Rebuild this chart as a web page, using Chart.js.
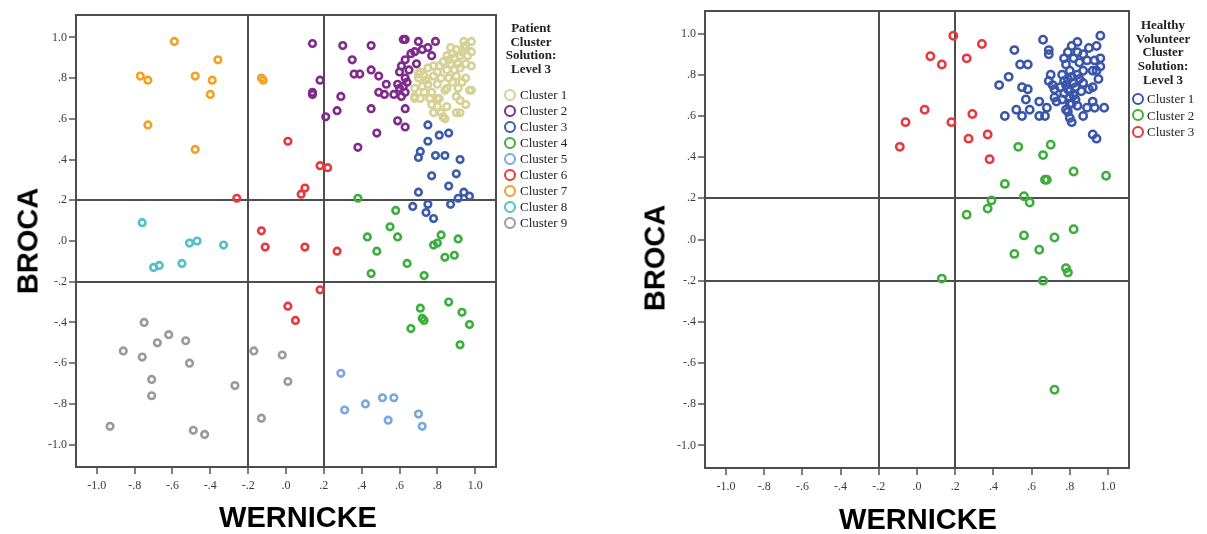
<!DOCTYPE html>
<html lang="en">
<head>
<meta charset="UTF-8">
<title>Patient and Healthy Volunteer Cluster Solutions</title>
<script src="https://cdn.jsdelivr.net/npm/chart.js"></script>
<style>
  body { margin: 0; background: #fff; }
  #wrap { position: relative; width: 1207px; height: 534px; overflow: hidden; }
  canvas { position: absolute; top: 0; }
  .axis-title {
    position: absolute; white-space: nowrap; color: #000;
    font: bold 29px "Liberation Sans", Arial, sans-serif;
    transform: translate(-50%, -50%);
  }
  .axis-title.y { transform: translate(-50%, -50%) rotate(-90deg); }
  .leg-title {
    position: absolute; text-align: center; color: #222; white-space: nowrap;
    font: bold 13px/13.7px "Liberation Serif", serif;
    transform: translateX(-50%);
  }
  .leg-item {
    position: absolute; white-space: nowrap; color: #222;
    font: 13px/16px "Liberation Serif", serif;
  }
  .leg-ring { position: absolute; width: 8px; height: 8px; border: 2.5px solid; border-radius: 50%; }
</style>
</head>
<body>
<div id="wrap">
  <canvas id="patientChart" width="600" height="534" style="left:0"></canvas>
  <canvas id="healthyChart" width="607" height="534" style="left:600px"></canvas>
</div>

<script>
// axis setup
const axisMin = -1.11, axisMax = 1.11;
const tickValues = [-1.0, -0.8, -0.6, -0.4, -0.2, 0, 0.2, 0.4, 0.6, 0.8, 1.0];
const cutoffs = [-0.2, 0.2];

// patient panel, [wernicke, broca]
const patientNames = ['Cluster 1', 'Cluster 2', 'Cluster 3', 'Cluster 4', 'Cluster 5',
                      'Cluster 6', 'Cluster 7', 'Cluster 8', 'Cluster 9'];
const patientColors = ['#d6d196', '#7f2b8c', '#3b5bab', '#3cae3c', '#7aa8dc',
                       '#e8383d', '#f2a125', '#4fc0cc', '#9a9a9a'];

const patientC1 = [[0.94,0.98],[0.98,0.98],[0.95,0.96],[0.90,0.94],[0.94,0.95],[0.98,0.93],[0.88,0.92],
  [0.92,0.91],[0.96,0.91],[0.85,0.91],[0.89,0.90],[0.83,0.88],[0.87,0.87],[0.91,0.87],[0.95,0.87],
  [0.81,0.86],[0.78,0.86],[0.75,0.85],[0.85,0.84],[0.89,0.84],[0.98,0.86],[0.71,0.83],[0.73,0.81],
  [0.70,0.80],[0.78,0.81],[0.82,0.80],[0.86,0.80],[0.90,0.81],[0.95,0.80],[0.75,0.77],[0.72,0.76],
  [0.68,0.75],[0.80,0.77],[0.85,0.75],[0.91,0.75],[0.97,0.74],[0.73,0.73],[0.77,0.73],[0.68,0.71],
  [0.71,0.70],[0.76,0.70],[0.80,0.70],[0.90,0.71],[0.92,0.69],[0.95,0.67],[0.77,0.67],[0.80,0.66],
  [0.85,0.66],[0.90,0.63],[0.82,0.63],[0.78,0.63],[0.83,0.61],[0.84,0.60],[0.74,0.79],[0.70,0.82],
  [0.68,0.70],[0.92,0.63],[0.98,0.74],[0.81,0.70],[0.84,0.74],[0.93,0.93],[0.87,0.95],[0.92,0.85],
  [0.88,0.78],[0.93,0.78],[0.86,0.89],[0.80,0.83]];
const patientC2 = [[0.14,0.97],[0.30,0.96],[0.45,0.96],[0.62,0.99],[0.63,0.99],[0.70,0.98],[0.79,0.98],
  [0.75,0.95],[0.72,0.94],[0.68,0.93],[0.66,0.92],[0.77,0.91],[0.63,0.89],[0.35,0.89],[0.69,0.87],
  [0.61,0.86],[0.60,0.83],[0.45,0.84],[0.36,0.82],[0.39,0.82],[0.49,0.81],[0.63,0.80],[0.64,0.78],
  [0.18,0.79],[0.59,0.77],[0.53,0.77],[0.14,0.72],[0.14,0.73],[0.49,0.73],[0.52,0.72],[0.57,0.72],
  [0.61,0.71],[0.63,0.73],[0.60,0.75],[0.29,0.71],[0.27,0.64],[0.45,0.65],[0.63,0.65],[0.21,0.61],
  [0.59,0.59],[0.63,0.56],[0.48,0.53],[0.38,0.46],[0.62,0.76],[0.65,0.84]];
const patientC3 = [[0.75,0.57],[0.81,0.52],[0.86,0.53],[0.75,0.49],[0.71,0.44],[0.70,0.41],[0.79,0.42],
  [0.84,0.42],[0.92,0.40],[0.77,0.32],[0.90,0.33],[0.86,0.27],[0.70,0.24],[0.94,0.24],[0.91,0.21],
  [0.97,0.22],[0.67,0.17],[0.75,0.18],[0.87,0.18],[0.74,0.14],[0.78,0.11]];
const patientC4 = [[0.38,0.21],[0.58,0.15],[0.55,0.07],[0.59,0.02],[0.43,0.02],[0.48,-0.05],[0.64,-0.11],
  [0.45,-0.16],[0.73,-0.17],[0.82,0.03],[0.80,-0.01],[0.78,-0.02],[0.91,0.01],[0.84,-0.08],[0.89,-0.07],
  [0.71,-0.33],[0.86,-0.30],[0.93,-0.35],[0.97,-0.41],[0.72,-0.38],[0.73,-0.39],[0.66,-0.43],[0.92,-0.51]];
const patientC5 = [[0.29,-0.65],[0.31,-0.83],[0.42,-0.80],[0.51,-0.77],[0.57,-0.77],[0.54,-0.88],
  [0.70,-0.85],[0.72,-0.91]];
const patientC6 = [[0.01,0.49],[0.18,0.37],[0.22,0.36],[0.10,0.26],[0.08,0.23],[-0.26,0.21],[-0.13,0.05],
  [-0.11,-0.03],[0.10,-0.03],[0.27,-0.05],[0.18,-0.24],[0.01,-0.32],[0.05,-0.39]];
const patientC7 = [[-0.59,0.98],[-0.77,0.81],[-0.73,0.79],[-0.48,0.81],[-0.39,0.79],[-0.36,0.89],
  [-0.40,0.72],[-0.73,0.57],[-0.48,0.45],[-0.13,0.80],[-0.12,0.79]];
const patientC8 = [[-0.76,0.09],[-0.51,-0.01],[-0.47,0.00],[-0.33,-0.02],[-0.70,-0.13],[-0.67,-0.12],
  [-0.55,-0.11]];
const patientC9 = [[-0.75,-0.40],[-0.86,-0.54],[-0.76,-0.57],[-0.68,-0.50],[-0.62,-0.46],[-0.53,-0.49],
  [-0.51,-0.60],[-0.71,-0.68],[-0.71,-0.76],[-0.93,-0.91],[-0.49,-0.93],[-0.43,-0.95],[-0.27,-0.71],
  [-0.17,-0.54],[-0.02,-0.56],[0.01,-0.69],[-0.13,-0.87]];

// healthy volunteer panel
const healthyNames = ['Cluster 1', 'Cluster 2', 'Cluster 3'];
const healthyColors = ['#3a56ab', '#3cae3c', '#e8383d'];

const healthyC1 = [[0.96,0.99],[0.66,0.97],[0.84,0.96],[0.81,0.94],[0.94,0.94],[0.51,0.92],[0.69,0.92],
  [0.69,0.90],[0.90,0.93],[0.79,0.91],[0.84,0.91],[0.87,0.90],[0.77,0.88],[0.82,0.88],[0.96,0.88],
  [0.93,0.87],[0.89,0.87],[0.54,0.85],[0.58,0.85],[0.78,0.85],[0.85,0.86],[0.96,0.84],[0.94,0.82],
  [0.80,0.82],[0.87,0.82],[0.92,0.82],[0.70,0.80],[0.81,0.79],[0.84,0.80],[0.95,0.78],[0.48,0.79],
  [0.43,0.75],[0.69,0.77],[0.71,0.75],[0.77,0.77],[0.82,0.76],[0.83,0.74],[0.75,0.74],[0.55,0.74],
  [0.58,0.73],[0.72,0.73],[0.79,0.73],[0.86,0.72],[0.90,0.73],[0.92,0.74],[0.72,0.69],[0.76,0.68],
  [0.80,0.69],[0.83,0.68],[0.57,0.68],[0.64,0.67],[0.68,0.64],[0.73,0.67],[0.81,0.66],[0.84,0.65],
  [0.92,0.67],[0.93,0.64],[0.98,0.64],[0.89,0.64],[0.52,0.63],[0.59,0.63],[0.55,0.60],[0.46,0.60],
  [0.64,0.60],[0.67,0.60],[0.79,0.62],[0.80,0.59],[0.81,0.57],[0.87,0.60],[0.92,0.51],[0.94,0.49],
  [0.78,0.75],[0.80,0.72],[0.77,0.71],[0.82,0.70],[0.79,0.78],[0.76,0.80],[0.85,0.78],[0.87,0.76],
  [0.80,0.66],[0.78,0.63]];
const healthyC2 = [[0.53,0.45],[0.70,0.46],[0.66,0.41],[0.82,0.33],[0.99,0.31],[0.67,0.29],[0.68,0.29],
  [0.46,0.27],[0.56,0.21],[0.59,0.18],[0.39,0.19],[0.37,0.15],[0.26,0.12],[0.82,0.05],[0.56,0.02],
  [0.72,0.01],[0.64,-0.05],[0.51,-0.07],[0.78,-0.14],[0.79,-0.16],[0.66,-0.20],[0.13,-0.19],[0.72,-0.73]];
const healthyC3 = [[0.19,0.99],[0.34,0.95],[0.07,0.89],[0.13,0.85],[0.26,0.88],[0.04,0.63],[-0.06,0.57],
  [0.18,0.57],[0.29,0.61],[-0.09,0.45],[0.27,0.49],[0.37,0.51],[0.38,0.39]];

Chart.defaults.font.family = '"Liberation Serif", "Times New Roman", serif';

function fmt(v) {
  return v.toFixed(1).replace(/^(-?)0\./, '$1.');
}

// box round the plot area
const frame = {
  id: 'frame',
  beforeDatasetsDraw(chart) {
    const { ctx, chartArea: a } = chart;
    ctx.save();
    ctx.strokeStyle = '#4d4d4d';
    ctx.lineWidth = 2;
    ctx.strokeRect(a.left, a.top, a.right - a.left, a.bottom - a.top);
    ctx.restore();
  }
};

function axis(dir, size) {
  return {
    type: 'linear',
    min: axisMin,
    max: axisMax,
    afterBuildTicks: s => { s.ticks = tickValues.map(v => ({ value: v })); },
    afterFit: s => { if (dir === 'x') s.height = size; else s.width = size; },
    ticks: {
      callback: v => fmt(v),
      color: '#3a3a3a',
      font: { size: 12 },
      padding: dir === 'x' ? 5 : 2,
      autoSkip: false,
      maxRotation: 0
    },
    grid: {
      color: c => (c.tick && cutoffs.includes(c.tick.value)) ? '#4d4d4d' : 'rgba(0,0,0,0)',
      lineWidth: 2,
      tickColor: '#555',
      tickLength: 7,
      tickWidth: 1.5
    },
    border: { display: false }
  };
}

function makeChart(id, sets, names, colors, radius, ring, box) {
  new Chart(document.getElementById(id), {
    type: 'scatter',
    data: {
      datasets: sets.map((pts, i) => ({
        label: names[i],
        data: pts.map(p => ({ x: p[0], y: p[1] })),
        borderColor: colors[i],
        backgroundColor: 'rgba(0,0,0,0)',
        pointRadius: radius,
        pointHoverRadius: radius,
        pointBorderWidth: ring
      }))
    },
    options: {
      responsive: false,
      animation: false,
      layout: { padding: { top: box.top, right: box.right, left: 0, bottom: 0 } },
      plugins: { legend: { display: false }, tooltip: { enabled: false } },
      scales: { x: axis('x', box.xh), y: axis('y', box.yw) }
    },
    plugins: [frame]
  });
}

makeChart('patientChart',
  [patientC1, patientC2, patientC3, patientC4, patientC5, patientC6, patientC7, patientC8, patientC9],
  patientNames, patientColors, 3.3, 2.6, { top: 15, right: 104, xh: 67, yw: 76 });
makeChart('healthyChart', [healthyC1, healthyC2, healthyC3],
  healthyNames, healthyColors, 3.7, 2.5, { top: 11, right: 78, xh: 66, yw: 105 });

// titles and legends as html text
const wrap = document.getElementById('wrap');
function addText(cls, text, x, y) {
  const d = document.createElement('div');
  d.className = cls;
  d.textContent = text;
  d.style.left = x + 'px';
  d.style.top = y + 'px';
  wrap.appendChild(d);
  return d;
}
addText('axis-title y', 'BROCA', 28, 241);
addText('axis-title', 'WERNICKE', 298, 517);
addText('axis-title y', 'BROCA', 655, 258);
addText('axis-title', 'WERNICKE', 918, 519);

function legend(title, names, colors, cx, titleTop, ringX, textX, firstY, step) {
  const t = addText('leg-title', '', cx, titleTop);
  t.innerHTML = title.join('<br>');
  names.forEach((n, i) => {
    const cy = firstY + i * step;
    const r = addText('leg-ring', '', ringX - 6.5, cy - 6.5);
    r.style.borderColor = colors[i];
    addText('leg-item', n, textX, cy - 8);
  });
}
legend(['Patient', 'Cluster', 'Solution:', 'Level 3'], patientNames, patientColors,
  531, 21, 510.5, 520, 95, 16);
legend(['Healthy', 'Volunteer', 'Cluster', 'Solution:', 'Level 3'], healthyNames, healthyColors,
  1163, 18, 1138, 1147, 99, 16.7);
</script>
</body>
</html>
